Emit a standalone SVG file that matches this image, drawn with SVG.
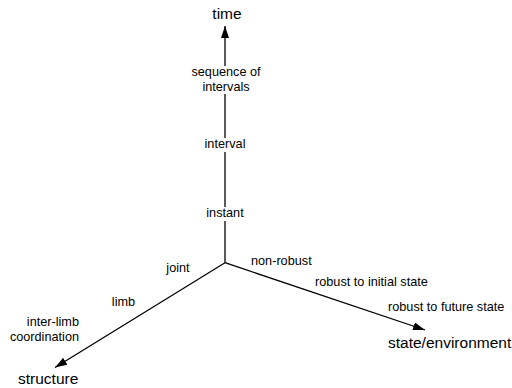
<svg xmlns="http://www.w3.org/2000/svg" width="512" height="388" viewBox="0 0 512 388">
<style>
text{font-family:"Liberation Sans",Arial,sans-serif;fill:#000}
.lbl{font-size:12.7px}
.ttl{font-size:15.5px}
.ax{stroke:#000;stroke-width:1.3;fill:none}
.bg{fill:#fff}
</style>
<defs>
<marker id="ah" viewBox="0 0 12 8" refX="12" refY="4" markerWidth="12" markerHeight="8" markerUnits="userSpaceOnUse" orient="auto">
<path d="M0,0 L12,4 L0,8 Z" fill="#000"/>
</marker>
</defs>
<rect width="512" height="388" fill="#fff"/>
<g id="connectors">
<line class="ax" x1="225" y1="262.7" x2="225" y2="26" marker-end="url(#ah)"/>
<line class="ax" x1="225" y1="262.7" x2="55" y2="367.5" marker-end="url(#ah)"/>
<line class="ax" x1="225" y1="262.7" x2="425" y2="330" marker-end="url(#ah)"/>
</g>
<g id="time"><text class="ttl" x="227" y="19" text-anchor="middle">time</text></g>
<g id="structure"><text class="ttl" x="18" y="384">structure</text></g>
<g id="state"><text class="ttl" x="388" y="348">state/environment</text></g>
<g id="seq">
<rect class="bg" x="190" y="66" width="74" height="28"/>
<text class="lbl" x="226" y="76" text-anchor="middle">sequence of</text>
<text class="lbl" x="226" y="91" text-anchor="middle">intervals</text>
</g>
<g id="interval">
<rect class="bg" x="198" y="138" width="54" height="14"/>
<text class="lbl" x="225" y="148" text-anchor="middle">interval</text>
</g>
<g id="instant">
<rect class="bg" x="202" y="207" width="46" height="14"/>
<text class="lbl" x="225" y="217" text-anchor="middle">instant</text>
</g>
<g id="joint"><text class="lbl" x="178" y="272" text-anchor="middle">joint</text></g>
<g id="limb"><text class="lbl" x="123.5" y="306" text-anchor="middle">limb</text></g>
<g id="interlimb">
<text class="lbl" x="79" y="325.5" text-anchor="end">inter-limb</text>
<text class="lbl" x="79" y="341" text-anchor="end">coordination</text>
</g>
<g id="nonrobust"><text class="lbl" x="251" y="265">non-robust</text></g>
<g id="robinit"><text class="lbl" x="315" y="286">robust to initial state</text></g>
<g id="robfut"><text class="lbl" x="388" y="310.5">robust to future state</text></g>
</svg>
